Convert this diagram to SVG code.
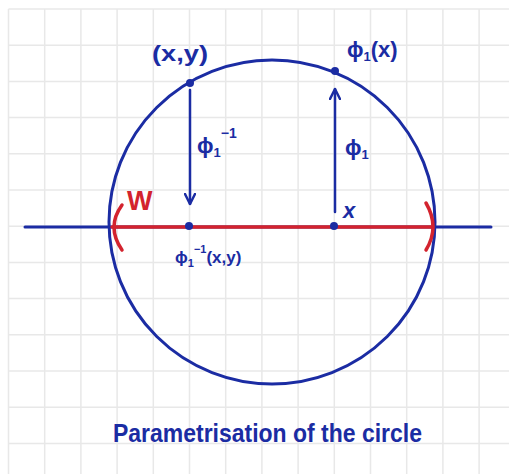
<svg xmlns="http://www.w3.org/2000/svg" width="509" height="474" viewBox="0 0 509 474">
<style>
.grid line{stroke:#e8e8e8;stroke-width:1.5}
.t{fill:#1b2ca3;font-family:"Liberation Sans",Arial,sans-serif;font-weight:bold}
.blue{stroke:#1b2ca3;fill:none;stroke-width:3;stroke-linecap:round}
.arr{stroke:#1b2ca3;fill:none;stroke-width:2.5;stroke-linecap:round}
.red{stroke:#d3232e;fill:none;stroke-width:3.5;stroke-linecap:round}
.dot{fill:#1b2ca3}
</style>
<defs>
<marker id="ah" viewBox="0 0 12 12" refX="11" refY="6" markerWidth="12" markerHeight="12" markerUnits="userSpaceOnUse" orient="auto">
<path d="M1,1 L11,6 L1,11" fill="none" stroke="#1b2ca3" stroke-width="2.5" stroke-linecap="round" stroke-linejoin="round"/>
</marker>
</defs>
<rect width="509" height="474" fill="#ffffff"/>
<g class="grid">
<line x1="8.5" y1="9" x2="8.5" y2="474"/>
<line x1="44.7" y1="9" x2="44.7" y2="474"/>
<line x1="80.9" y1="9" x2="80.9" y2="474"/>
<line x1="117.1" y1="9" x2="117.1" y2="474"/>
<line x1="153.3" y1="9" x2="153.3" y2="474"/>
<line x1="189.5" y1="9" x2="189.5" y2="474"/>
<line x1="225.7" y1="9" x2="225.7" y2="474"/>
<line x1="261.9" y1="9" x2="261.9" y2="474"/>
<line x1="298.1" y1="9" x2="298.1" y2="474"/>
<line x1="334.3" y1="9" x2="334.3" y2="474"/>
<line x1="370.5" y1="9" x2="370.5" y2="474"/>
<line x1="406.7" y1="9" x2="406.7" y2="474"/>
<line x1="442.9" y1="9" x2="442.9" y2="474"/>
<line x1="479.1" y1="9" x2="479.1" y2="474"/>
<line x1="8.5" y1="9" x2="509" y2="9"/>
<line x1="8.5" y1="45.2" x2="509" y2="45.2"/>
<line x1="8.5" y1="81.4" x2="509" y2="81.4"/>
<line x1="8.5" y1="117.6" x2="509" y2="117.6"/>
<line x1="8.5" y1="153.8" x2="509" y2="153.8"/>
<line x1="8.5" y1="190" x2="509" y2="190"/>
<line x1="8.5" y1="226.2" x2="509" y2="226.2"/>
<line x1="8.5" y1="262.4" x2="509" y2="262.4"/>
<line x1="8.5" y1="298.6" x2="509" y2="298.6"/>
<line x1="8.5" y1="334.8" x2="509" y2="334.8"/>
<line x1="8.5" y1="371" x2="509" y2="371"/>
<line x1="8.5" y1="407.2" x2="509" y2="407.2"/>
<line x1="8.5" y1="443.4" x2="509" y2="443.4"/>
</g>
<g id="axis">
<line class="blue" x1="25" y1="227" x2="491" y2="227"/>
</g>
<g id="circle">
<ellipse class="blue" cx="272" cy="222" rx="163" ry="162"/>
</g>
<g id="W-interval">
<line class="red" x1="112" y1="227" x2="432" y2="227"/>
<path class="red" d="M122,205 Q106,227 122,250"/>
<path class="red" d="M426,203 Q440,227 426,250"/>
<text x="127" y="210" font-family="'Liberation Sans',Arial,sans-serif" font-weight="bold" font-size="27" fill="#d3232e">W</text>
</g>
<g id="connectors">
<line class="arr" x1="190" y1="90" x2="190" y2="204" marker-end="url(#ah)"/>
<line class="arr" x1="335" y1="212" x2="335" y2="89" marker-end="url(#ah)"/>
</g>
<g id="point-xy">
<circle class="dot" cx="190" cy="83" r="4"/>
<text class="t" x="152" y="61" font-size="22" textLength="56" lengthAdjust="spacingAndGlyphs">(x,y)</text>
</g>
<g id="point-phi-x">
<circle class="dot" cx="335" cy="71" r="4"/>
<text class="t" x="347" y="57" font-size="22">ϕ<tspan font-size="13" dy="4">1</tspan><tspan dy="-4">(x)</tspan></text>
</g>
<g id="label-phi-inv">
<text class="t" x="197" y="153" font-size="22">ϕ<tspan font-size="13" dy="4">1</tspan><tspan font-size="14" dy="-19">−1</tspan></text>
</g>
<g id="label-phi">
<text class="t" x="345" y="155" font-size="22">ϕ<tspan font-size="13" dy="4">1</tspan></text>
</g>
<g id="point-x">
<circle class="dot" cx="334" cy="226" r="4"/>
<text class="t" x="343" y="218" font-size="22" font-style="italic">x</text>
</g>
<g id="point-preimage">
<circle class="dot" cx="189" cy="226" r="4"/>
<text class="t" x="175" y="263" font-size="17">ϕ<tspan font-size="11" dy="4">1</tspan><tspan font-size="11" dy="-14">−1</tspan><tspan dy="10">(x,y)</tspan></text>
</g>
<g id="title">
<text class="t" x="113" y="442" font-size="26" textLength="309" lengthAdjust="spacingAndGlyphs">Parametrisation of the circle</text>
</g>
</svg>
